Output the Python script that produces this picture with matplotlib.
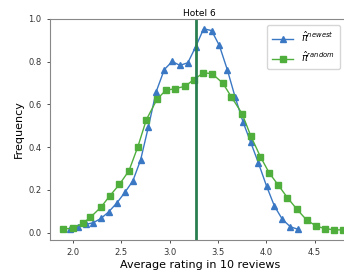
import matplotlib
matplotlib.use("Agg")
import matplotlib.pyplot as plt

title = "Hotel 6"
xlabel = "Average rating in 10 reviews"
ylabel = "Frequency"
mean_rating = 3.27

newest_x = [1.967, 2.048, 2.13, 2.21, 2.29, 2.37, 2.455, 2.537, 2.62, 2.70,
            2.78, 2.86, 2.945, 3.026, 3.107, 3.189, 3.27, 3.352, 3.434, 3.515,
            3.597, 3.678, 3.76, 3.84, 3.92, 4.004, 4.085, 4.167, 4.25, 4.33]
newest_y = [0.018, 0.027, 0.038, 0.046, 0.066, 0.097, 0.139, 0.188, 0.242, 0.34,
            0.494, 0.658, 0.763, 0.801, 0.783, 0.795, 0.87, 0.954, 0.946, 0.876,
            0.763, 0.635, 0.518, 0.422, 0.325, 0.217, 0.124, 0.062, 0.027, 0.015]

random_x = [1.90, 2.00, 2.10, 2.18, 2.29, 2.38, 2.48, 2.58, 2.67, 2.76,
            2.87, 2.96, 3.06, 3.16, 3.25, 3.35, 3.44, 3.55, 3.64, 3.75,
            3.84, 3.94, 4.03, 4.125, 4.22, 4.32, 4.42, 4.52, 4.61, 4.70, 4.79]
random_y = [0.016, 0.021, 0.043, 0.071, 0.119, 0.171, 0.225, 0.29, 0.40, 0.529,
            0.624, 0.666, 0.674, 0.685, 0.716, 0.748, 0.744, 0.70, 0.635, 0.557,
            0.453, 0.355, 0.28, 0.222, 0.163, 0.108, 0.058, 0.030, 0.018, 0.013, 0.012]

xticks = [2.0, 2.5, 3.0, 3.5, 4.0, 4.5]
yticks = [0.0, 0.2, 0.4, 0.6, 0.8, 1.0]

fig = plt.figure(figsize=(3.44, 2.77), dpi=100)
ax = fig.add_axes([50/344, 37/277, 0.87, 221/277])

ax.plot(newest_x, newest_y, marker='^', color='#3b78c4', markersize=4,
        linewidth=1.0, label=r'$\hat{\pi}^{newest}$')
ax.plot(random_x, random_y, marker='s', color='#4fae3c', markersize=4,
        linewidth=1.0, label=r'$\hat{\pi}^{random}$')
ax.axvline(mean_rating, color='#2a7f50', linewidth=2)

ax.set_xlim(1.762, 4.86)
ax.set_ylim(-0.035, 1.0)
ax.set_xticks(xticks)
ax.set_yticks(yticks)
ax.tick_params(labelsize=6, length=2.5, width=0.6, colors='#333333')
for s in ax.spines.values():
    s.set_color('#888888')
    s.set_linewidth(0.8)

ax.set_title(title, fontsize=6.5, pad=2)
ax.set_xlabel(xlabel, fontsize=8, labelpad=2)
ax.set_ylabel(ylabel, fontsize=8, labelpad=3)
ax.legend(loc='upper right', bbox_to_anchor=(0.985, 0.995), fontsize=7,
          handlelength=2.2, borderpad=0.5, labelspacing=0.6)

fig.savefig("out.png", dpi=100)
